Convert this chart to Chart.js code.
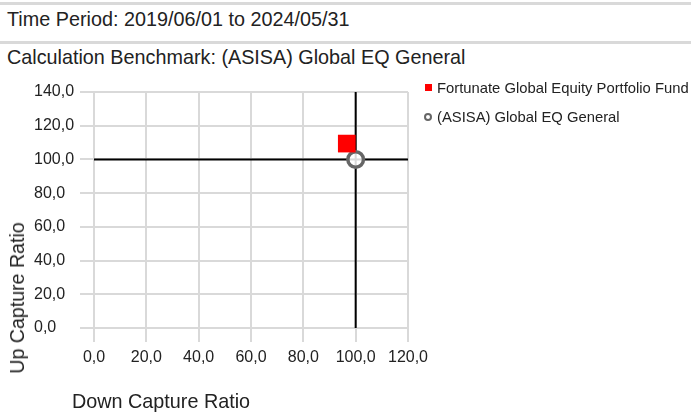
<!DOCTYPE html>
<html>

<head>
    <title>Up / Down Capture Ratio</title>
    <meta name="viewport" content="width=device-width, initial-scale=1.0">
    <script src="https://cdn.jsdelivr.net/npm/chart.js"></script>
    <style type="text/css">
        body {
            margin: 0;
            width: 691px;
            height: 415px;
            position: relative;
            background: #fff;
            font-family: "Liberation Sans", Arial, sans-serif;
            color: #222;
            overflow: hidden;
        }
        .rule {
            position: absolute;
            left: 0;
            width: 691px;
            height: 3px;
            background: #d9d9d9;
        }
        .head {
            position: absolute;
            left: 7px;
            font-size: 19.8px;
            line-height: 20px;
            white-space: nowrap;
        }
        .chart-box {
            position: absolute;
            left: 0;
            top: 70px;
            width: 691px;
            height: 345px;
        }
        .legend-item {
            position: absolute;
            left: 437px;
            font-size: 14.8px;
            line-height: 16px;
            white-space: nowrap;
        }
        .mk {
            position: absolute;
            box-sizing: border-box;
        }
        .ytitle {
            position: absolute;
            left: 17px;
            top: 298px;
            font-size: 19.6px;
            line-height: 20px;
            white-space: nowrap;
            transform: translate(-50%, -50%) rotate(-90deg);
        }
        .xtitle {
            position: absolute;
            left: 72px;
            top: 391px;
            font-size: 19.8px;
            line-height: 20px;
            white-space: nowrap;
        }
    </style>
</head>

<body>
    <div class="rule" style="top:2px"></div>
    <div class="head" style="top:9px">Time Period: 2019/06/01 to 2024/05/31</div>
    <div class="rule" style="top:41px"></div>
    <div class="head" style="top:47px">Calculation Benchmark: (ASISA) Global EQ General</div>

    <div class="chart-box">
        <canvas id="myChart"></canvas>
    </div>

    <div id="legend"></div>
    <div class="ytitle">Up Capture Ratio</div>
    <div class="xtitle">Down Capture Ratio</div>

    <script>
        // data
        const seriesNames = ['Fortunate Global Equity Portfolio Fund', '(ASISA) Global EQ General'];
        const downCapture = [96.6, 100.0];
        const upCapture = [109.4, 100.0];
        const seriesColors = ['#ff0000', '#666666'];
        const xTicks = [0, 20, 40, 60, 80, 100, 120];
        const yTicks = [0, 20, 40, 60, 80, 100, 120, 140];
        const benchmarkLevel = 100;

        const fmt = v => v.toFixed(1).replace('.', ',');
        const xMin = xTicks[0], xMax = xTicks[xTicks.length - 1];
        const yMin = yTicks[0], yMax = yTicks[yTicks.length - 1];
        const tickFont = { family: '"Liberation Sans", Arial', size: 16 };

        var ctx = document.getElementById('myChart').getContext('2d');
        var myChart = new Chart(ctx, {
            type: 'scatter',
            data: {
                datasets: [{
                    label: seriesNames[0],
                    data: [{ x: downCapture[0], y: upCapture[0] }],
                    pointStyle: 'rect',
                    pointRadius: 12.5,
                    backgroundColor: seriesColors[0],
                    borderColor: seriesColors[0],
                    borderWidth: 0
                }, {
                    label: seriesNames[1],
                    data: [{ x: downCapture[1], y: upCapture[1] }],
                    pointStyle: 'circle',
                    pointRadius: 7.8,
                    backgroundColor: 'rgba(255,255,255,0.85)',
                    borderColor: seriesColors[1],
                    borderWidth: 3.5
                }, {
                    label: 'vline',
                    data: [{ x: benchmarkLevel, y: yMin }, { x: benchmarkLevel, y: yMax }],
                    showLine: true,
                    borderColor: '#000',
                    borderWidth: 2,
                    pointRadius: 0
                }, {
                    label: 'hline',
                    data: [{ x: xMin, y: benchmarkLevel }, { x: xMax, y: benchmarkLevel }],
                    showLine: true,
                    borderColor: '#000',
                    borderWidth: 2,
                    pointRadius: 0
                }]
            },
            options: {
                responsive: true,
                maintainAspectRatio: false,
                animation: false,
                events: [],
                layout: { padding: { left: 34, top: 22, right: 283, bottom: 0 } },
                plugins: {
                    legend: { display: false },
                    tooltip: { enabled: false }
                },
                scales: {
                    x: {
                        type: 'linear',
                        min: xMin,
                        max: xMax,
                        afterBuildTicks: axis => { axis.ticks = xTicks.map(v => ({ value: v })); },
                        afterFit: axis => { axis.height = 87; },
                        grid: { color: '#d9d9d9', lineWidth: 2, tickLength: 14 },
                        border: { display: false },
                        ticks: {
                            padding: 6,
                            maxRotation: 0,
                            color: '#222',
                            font: tickFont,
                            callback: v => fmt(v)
                        }
                    },
                    y: {
                        type: 'linear',
                        min: yMin,
                        max: yMax,
                        afterBuildTicks: axis => { axis.ticks = yTicks.map(v => ({ value: v })); },
                        afterFit: axis => { axis.width = 60; },
                        grid: { color: '#d9d9d9', lineWidth: 2, tickLength: 14 },
                        border: { display: false },
                        ticks: {
                            padding: 4,
                            crossAlign: 'far',
                            color: '#222',
                            font: tickFont,
                            callback: v => fmt(v)
                        }
                    }
                }
            }
        });

        // html legend for the two real series
        const legend = document.getElementById('legend');
        const rowTops = [80, 109];
        for (let i = 0; i < seriesNames.length; i++) {
            const item = document.createElement('div');
            item.className = 'legend-item';
            item.style.top = rowTops[i] + 'px';
            item.innerText = seriesNames[i];
            legend.appendChild(item);

            const mk = document.createElement('div');
            mk.className = 'mk';
            if (i === 0) {
                mk.style.cssText = `left:425px;top:84px;width:7px;height:7px;background:${seriesColors[0]}`;
            } else {
                mk.style.cssText = `left:424px;top:113px;width:8px;height:8px;border-radius:50%;border:2.5px solid ${seriesColors[1]};background:#fff`;
            }
            legend.appendChild(mk);
        }
    </script>
</body>

</html>
